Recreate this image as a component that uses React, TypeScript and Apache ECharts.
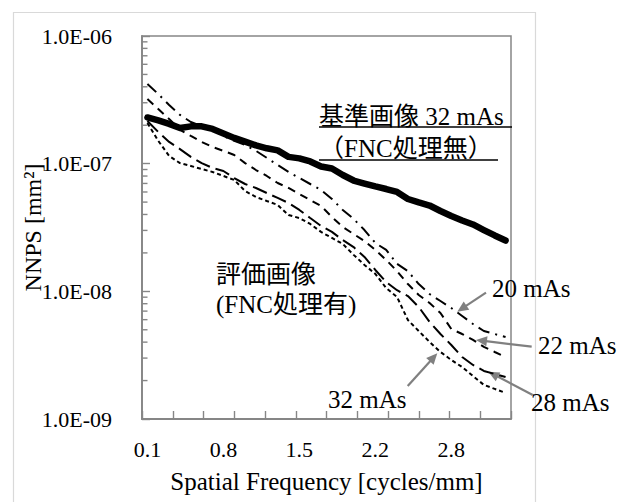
import React, { useEffect, useRef } from "react";
import * as echarts from "echarts";

// Spatial frequency categories [cycles/mm]
const categories = [
  0.107, 0.205, 0.303, 0.4, 0.498, 0.596, 0.693, 0.791, 0.889, 0.986, 1.084, 1.182,
  1.279, 1.377, 1.475, 1.572, 1.67, 1.768, 1.865, 1.963, 2.061, 2.159, 2.256, 2.354,
  2.452, 2.549, 2.647, 2.745, 2.843, 2.94, 3.038, 3.136, 3.233, 3.331,
];

// 基準画像 32 mAs (FNC処理無)
const ref32NoFnc = [
  2.3e-7, 2.18e-7, 2.05e-7, 1.9e-7, 1.96e-7, 1.96e-7, 1.87e-7, 1.72e-7, 1.59e-7, 1.49e-7,
  1.39e-7, 1.32e-7, 1.27e-7, 1.13e-7, 1.1e-7, 1.04e-7, 9.5e-8, 9.17e-8, 8.15e-8, 7.38e-8,
  6.99e-8, 6.63e-8, 6.33e-8, 6.0e-8, 5.29e-8, 4.97e-8, 4.7e-8, 4.26e-8, 3.89e-8, 3.59e-8,
  3.34e-8, 3.02e-8, 2.74e-8, 2.5e-8,
];
// 評価画像 (FNC処理有)
const fnc20 = [
  4.21e-7, 3.51e-7, 2.88e-7, 2.41e-7, 2.12e-7, 1.97e-7, 1.84e-7, 1.65e-7, 1.51e-7, 1.4e-7,
  1.26e-7, 1.11e-7, 9.76e-8, 8.61e-8, 7.72e-8, 6.93e-8, 6.22e-8, 5.29e-8, 4.34e-8, 3.69e-8,
  3.02e-8, 2.39e-8, 2.11e-8, 1.64e-8, 1.44e-8, 1.14e-8, 9.53e-9, 8.4e-9, 7.4e-9, 6.41e-9,
  5.55e-9, 4.89e-9, 4.63e-9, 4.39e-9,
];
const fnc22 = [
  3.21e-7, 2.68e-7, 2.24e-7, 1.84e-7, 1.65e-7, 1.48e-7, 1.35e-7, 1.26e-7, 1.17e-7, 1.01e-7,
  8.92e-8, 8.01e-8, 7.06e-8, 6.45e-8, 5.79e-8, 5.19e-8, 4.66e-8, 3.82e-8, 3.19e-8, 2.81e-8,
  2.48e-8, 2.11e-8, 1.76e-8, 1.44e-8, 1.14e-8, 9.36e-9, 8.1e-9, 6.77e-9, 5.07e-9, 4.63e-9,
  4.16e-9, 3.67e-9, 3.35e-9, 3.06e-9,
];
const fnc28 = [
  2.16e-7, 1.77e-7, 1.48e-7, 1.3e-7, 1.13e-7, 1.01e-7, 9.25e-8, 8.76e-8, 7.72e-8, 6.93e-8,
  6.45e-8, 5.89e-8, 5.39e-8, 4.92e-8, 4.34e-8, 3.75e-8, 3.25e-8, 2.92e-8, 2.52e-8, 2.22e-8,
  1.86e-8, 1.47e-8, 1.18e-8, 1.02e-8, 9.19e-9, 7.54e-9, 5.75e-9, 4.63e-9, 3.8e-9, 3.06e-9,
  2.65e-9, 2.38e-9, 2.25e-9, 2.13e-9,
];
const fnc32 = [
  2.08e-7, 1.51e-7, 1.15e-7, 1.01e-7, 9.59e-8, 9.08e-8, 8.61e-8, 8.01e-8, 7.45e-8, 6.11e-8,
  5.48e-8, 5.1e-8, 4.75e-8, 3.96e-8, 3.75e-8, 3.37e-8, 2.92e-8, 2.62e-8, 2.35e-8, 1.93e-8,
  1.61e-8, 1.37e-8, 1.06e-8, 9.03e-9, 5.96e-9, 4.89e-9, 4.01e-9, 3.35e-9, 2.9e-9, 2.55e-9,
  2.17e-9, 1.85e-9, 1.72e-9, 1.6e-9,
];

const yTickLabels = ["1.0E-09", "1.0E-08", "1.0E-07", "1.0E-06"];
const minorMultipliers = [2, 3, 4, 5, 6, 7, 8, 9];
const minorDecades = [1e-9, 1e-8, 1e-7];

const SERIF = '"Liberation Serif", serif, "Noto Sans CJK JP"';
const AXIS = "#868686";
const ARROW = "#808080";

function arrow(x1: number, y1: number, x2: number, y2: number) {
  const dx = x2 - x1;
  const dy = y2 - y1;
  const len = Math.sqrt(dx * dx + dy * dy);
  const ux = dx / len;
  const uy = dy / len;
  const hl = 11;
  const hw = 5;
  const bx = x2 - ux * hl;
  const by = y2 - uy * hl;
  return [
    {
      type: "line",
      shape: { x1, y1, x2: bx + ux * 1, y2: by + uy * 1 },
      style: { stroke: ARROW, lineWidth: 2.2 },
    },
    {
      type: "polygon",
      shape: {
        points: [
          [x2, y2],
          [bx - uy * hw, by + ux * hw],
          [bx + uy * hw, by - ux * hw],
        ],
      },
      style: { fill: ARROW },
    },
  ];
}

function txt(x: number, y: number, text: string, size: number) {
  return {
    type: "text",
    x,
    y,
    style: {
      text,
      fill: "#000",
      fontSize: size,
      fontFamily: SERIF,
      align: "left",
      verticalAlign: "middle",
    },
  };
}

function uline(x1: number, x2: number, y: number) {
  return {
    type: "line",
    shape: { x1, y1: y, x2, y2: y },
    style: { stroke: "#000", lineWidth: 1.6 },
  };
}

export default function App() {
  const ref = useRef<HTMLDivElement>(null);

  useEffect(() => {
    if (!ref.current) return;
    const chart = echarts.init(ref.current, undefined, { renderer: "svg" });

    const minorTicks: number[][] = [];
    minorDecades.forEach((d) => minorMultipliers.forEach((m) => minorTicks.push([0, m * d])));

    const lineBase = { type: "line", symbol: "none", silent: true, smooth: false };

    const option: any = {
      animation: false,
      backgroundColor: "#fff",
      grid: {
        left: 142,
        right: 129,
        top: 36,
        bottom: 83,
        containLabel: false,
        show: true,
        borderColor: AXIS,
        borderWidth: 1.5,
        backgroundColor: "transparent",
      },
      xAxis: [
        {
          type: "category",
          data: categories,
          boundaryGap: true,
          position: "bottom",
          name: "Spatial Frequency [cycles/mm]",
          nameLocation: "middle",
          nameGap: 50,
          nameMoveOverlap: false,
          nameTextStyle: { fontFamily: SERIF, fontSize: 25, color: "#000", lineHeight: 25 },
          axisLine: { show: true, lineStyle: { color: AXIS, width: 1.8 } },
          axisTick: { show: false },
          axisLabel: {
            interval: 6,
            margin: 19,
            fontFamily: SERIF,
            fontSize: 22,
            lineHeight: 22,
            color: "#000",
            formatter: (v: string) => Number(v).toFixed(1),
          },
          splitLine: { show: false },
        },
        {
          type: "value",
          min: 0,
          max: 12,
          interval: 1,
          position: "bottom",
          axisLine: { show: false },
          axisTick: { show: true, inside: true, length: 8, lineStyle: { color: AXIS, width: 1.4 } },
          axisLabel: { show: false },
          splitLine: { show: false },
        },
      ],
      yAxis: {
        type: "log",
        logBase: 10,
        min: 1e-9,
        max: 1e-6,
        splitNumber: 3,
        name: "NNPS [mm²]",
        nameLocation: "middle",
        nameRotate: 90,
        nameGap: 97,
        nameMoveOverlap: false,
        nameTextStyle: { fontFamily: SERIF, fontSize: 24, color: "#000", lineHeight: 24 },
        axisLine: { show: true, lineStyle: { color: AXIS, width: 1.8 } },
        axisTick: { show: true, inside: true, length: 8, lineStyle: { color: AXIS, width: 1.4 } },
        axisLabel: {
          margin: 30,
          fontFamily: SERIF,
          fontSize: 22,
          color: "#000",
          formatter: (v: number) => yTickLabels[Math.round(Math.log10(v)) + 9] ?? "",
        },
        splitLine: { show: false },
      },
      series: [
        {
          type: "custom",
          silent: true,
          clip: false,
          xAxisIndex: 0,
          yAxisIndex: 0,
          data: minorTicks,
          encode: { x: 0, y: 1 },
          renderItem: (params: any, api: any) => {
            const pt = api.coord([0, api.value(1)]);
            const x0 = params.coordSys.x;
            return {
              type: "line",
              shape: { x1: x0, y1: pt[1], x2: x0 + 5.5, y2: pt[1] },
              style: { stroke: AXIS, lineWidth: 1.4 },
            };
          },
        },
        {
          ...lineBase,
          name: "基準画像 32 mAs",
          data: ref32NoFnc,
          lineStyle: { color: "#000", width: 6.5, cap: "round", join: "round" },
          z: 2,
        },
        {
          ...lineBase,
          name: "20 mAs",
          data: fnc20,
          lineStyle: { color: "#000", width: 2, type: [12, 6, 2, 6] },
          z: 3,
        },
        {
          ...lineBase,
          name: "22 mAs",
          data: fnc22,
          lineStyle: { color: "#000", width: 2, type: [8, 6] },
          z: 3,
        },
        {
          ...lineBase,
          name: "28 mAs",
          data: fnc28,
          lineStyle: { color: "#000", width: 2, type: [15, 6] },
          z: 3,
        },
        {
          ...lineBase,
          name: "32 mAs",
          data: fnc32,
          lineStyle: { color: "#000", width: 2, type: [4, 3] },
          z: 3,
        },
      ],
      graphic: [
        {
          type: "rect",
          shape: { x: 13.5, y: 12.5, width: 522, height: 520 },
          style: { fill: "none", stroke: "#d9d9d9", lineWidth: 1.2 },
          silent: true,
        },
        txt(319, 116, "基準画像 32 mAs", 25),
        uline(319, 512, 127),
        txt(319, 148, "（FNC処理無）", 25),
        uline(319, 498, 160),
        txt(216, 274, "評価画像", 25),
        txt(216, 304, "(FNC処理有)", 25),
        txt(492, 288, "20 mAs", 25),
        txt(538, 345, "22 mAs", 25),
        txt(531, 402, "28 mAs", 25),
        txt(328, 399, "32 mAs", 25),
        ...arrow(486, 292.7, 457.3, 311.7),
        ...arrow(531.7, 346.7, 476, 340),
        ...arrow(532.7, 395, 488.3, 371.7),
        ...arrow(407.7, 386, 437.3, 353.3),
      ],
    };

    chart.setOption(option);
    return () => chart.dispose();
  }, []);

  return (
    <div
      ref={ref}
      style={{ position: "absolute", left: 0, top: 0, width: 640, height: 502, background: "#fff" }}
    />
  );
}
